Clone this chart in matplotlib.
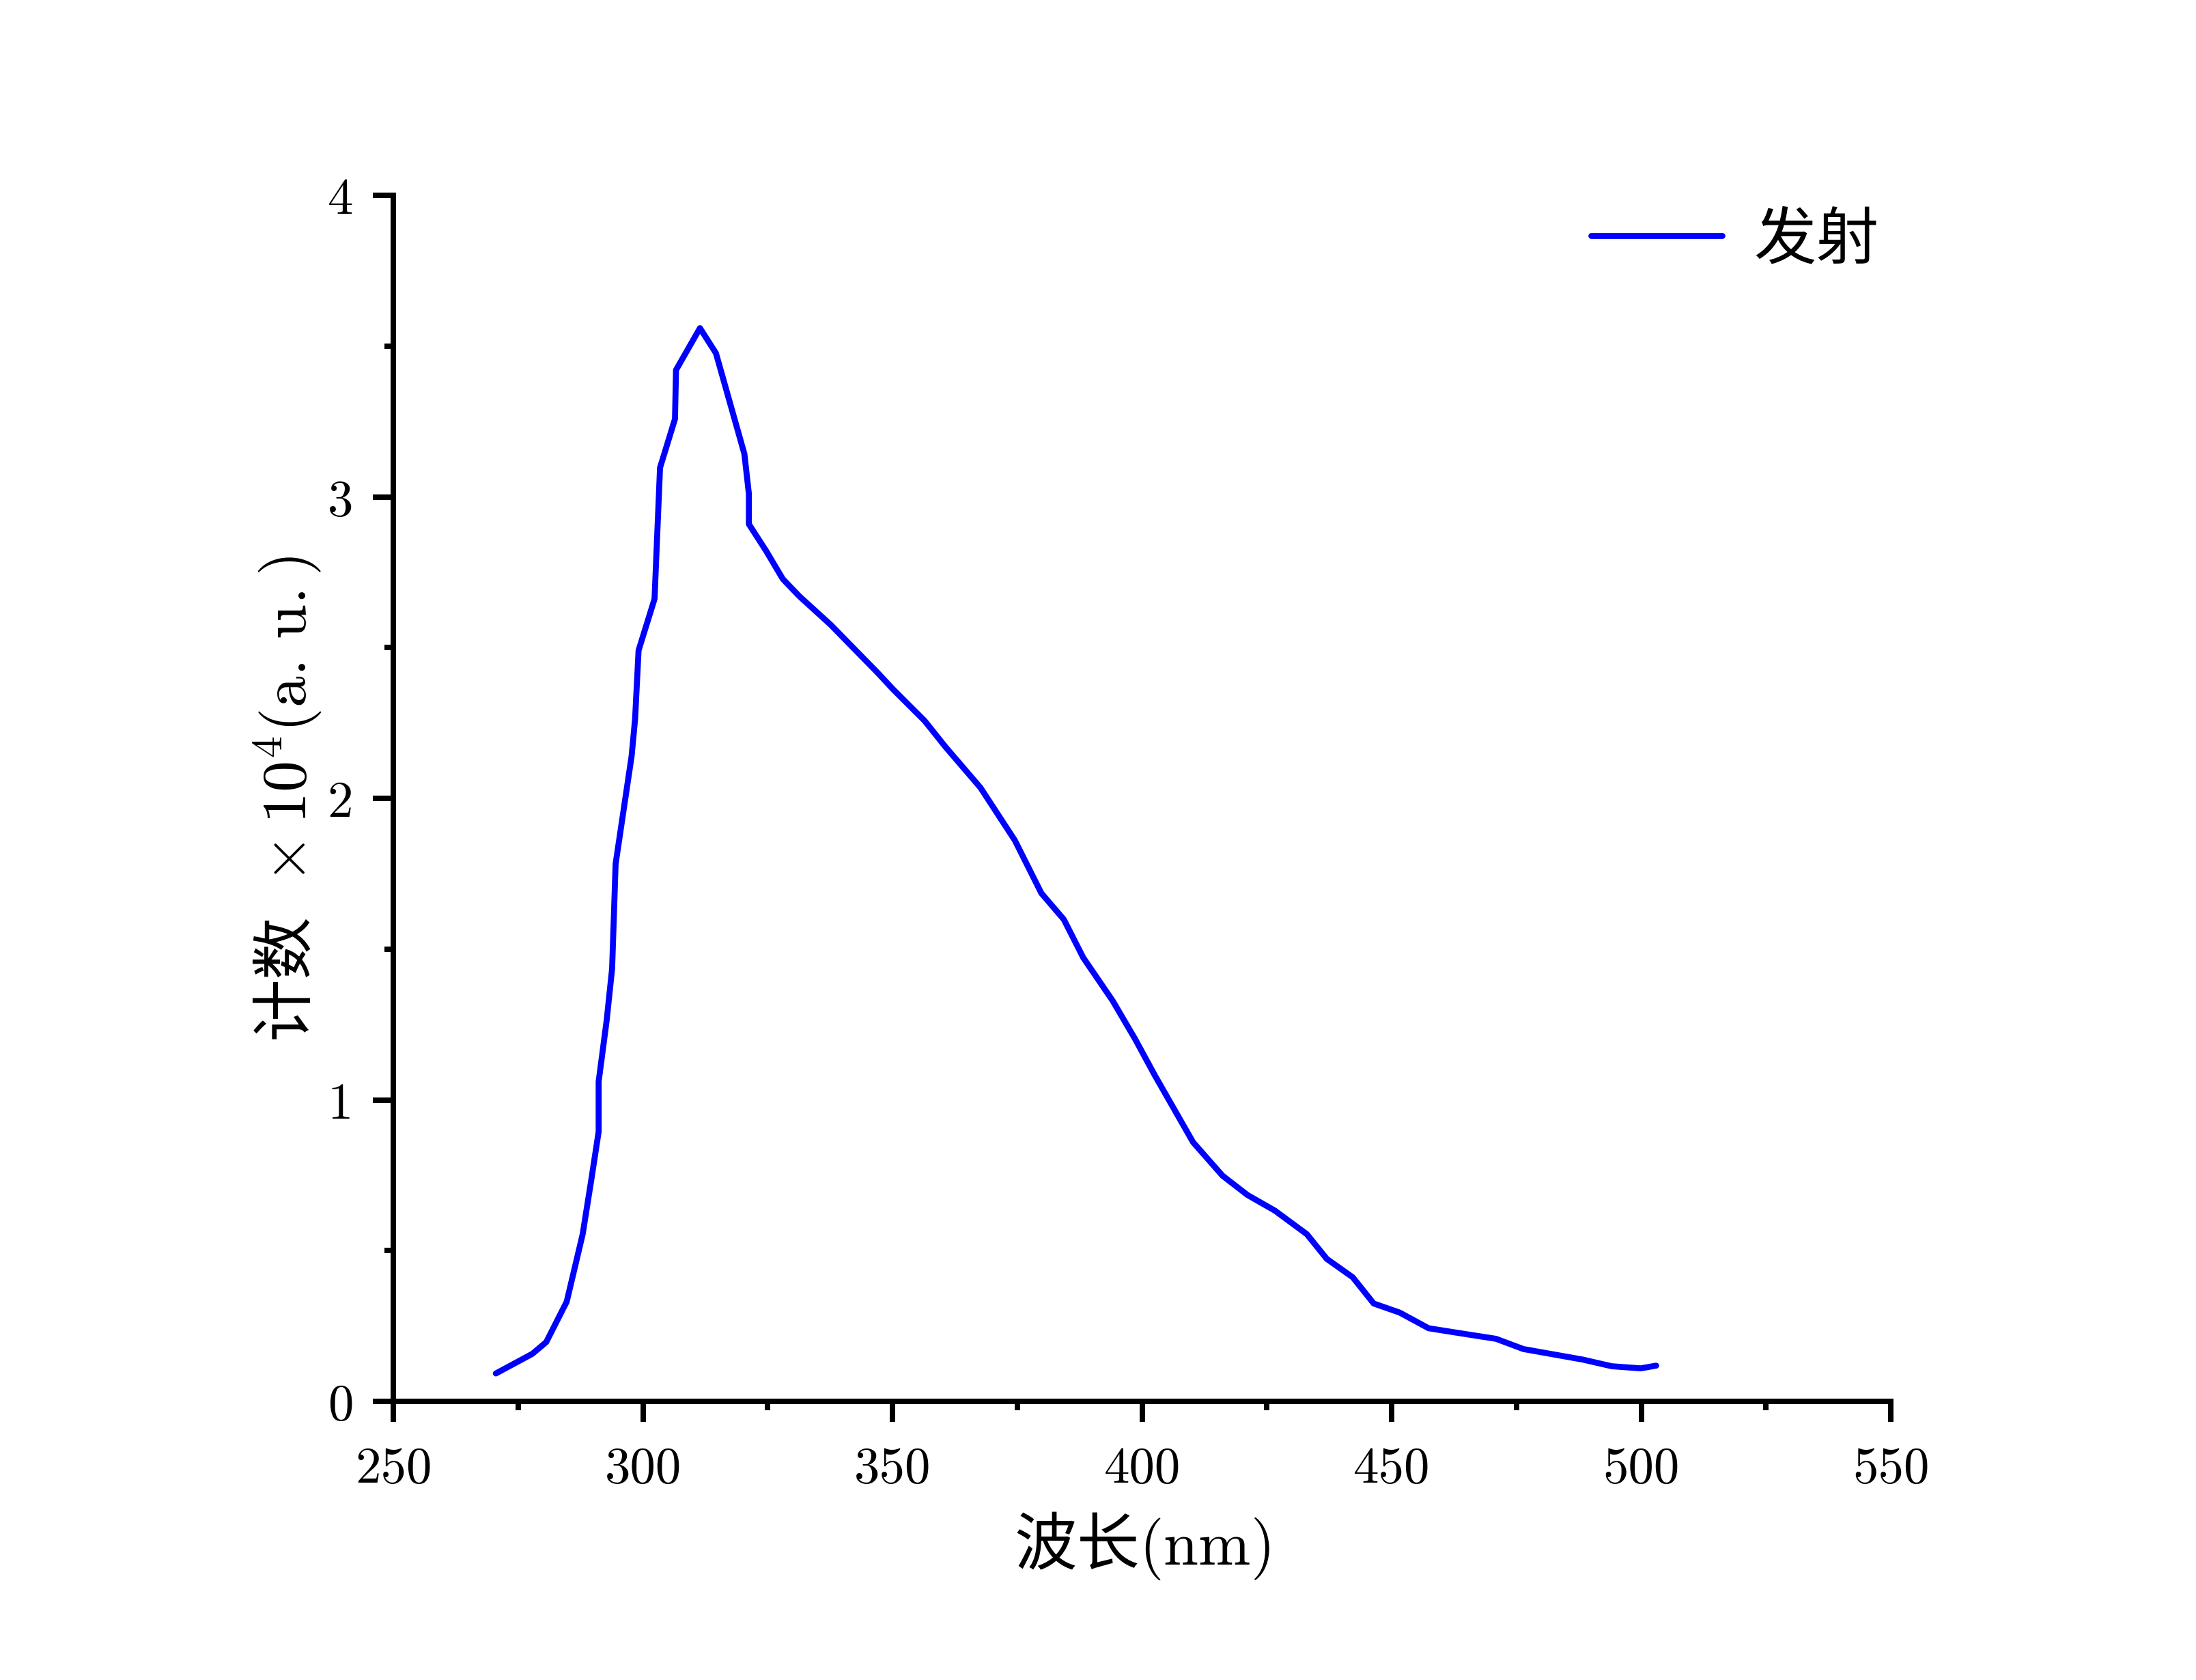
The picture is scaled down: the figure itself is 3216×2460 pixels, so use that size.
import numpy as np
import matplotlib
matplotlib.use("Agg")
import matplotlib.pyplot as plt
from matplotlib.ticker import MultipleLocator

plt.rcParams["font.family"] = ["cmr10", "Noto Sans CJK SC", "DejaVu Sans"]
plt.rcParams["mathtext.fontset"] = "cm"
plt.rcParams["axes.unicode_minus"] = False

# emission spectrum, counts in units of 1e4
wavelength = [270.5, 277.8, 280.6, 284.7, 287.9, 289.7, 291.1, 291.1, 292.7, 293.8,
              294.5, 297.7, 298.4, 299.1, 302.3, 303.4, 306.4, 306.6, 311.4, 314.6,
              320.3, 321.2, 321.2, 324.7, 328.0, 331.3, 337.6, 347.0, 350.1, 356.4,
              360.6, 367.6, 374.5, 379.8, 384.3, 388.2, 394.1, 398.6, 402.5, 410.2,
              416.1, 421.1, 426.6, 433.0, 437.0, 442.2, 446.4, 451.6, 457.4, 463.9,
              470.9, 476.4, 488.3, 494.1, 499.9, 503.0]
counts = [0.093, 0.158, 0.197, 0.331, 0.555, 0.743, 0.895, 1.061, 1.263, 1.436,
          1.783, 2.140, 2.263, 2.491, 2.662, 3.097, 3.259, 3.421, 3.560, 3.477,
          3.143, 3.011, 2.910, 2.820, 2.728, 2.671, 2.576, 2.417, 2.362, 2.258,
          2.171, 2.036, 1.861, 1.686, 1.599, 1.472, 1.329, 1.202, 1.083, 0.860,
          0.749, 0.685, 0.633, 0.555, 0.473, 0.412, 0.325, 0.295, 0.243, 0.226,
          0.208, 0.174, 0.139, 0.117, 0.110, 0.119]
series_label = "发射"

cjk = ["Noto Sans CJK SC", "DejaVu Sans"]

fig = plt.figure(figsize=(10.72, 8.2033), dpi=300)
ax = fig.add_axes([0.1792, 0.1657, 0.6818, 0.7176])

ax.plot(wavelength, counts, color="#0000FF", lw=2.1, solid_capstyle="round",
        label=series_label)

ax.set_xlim(250, 550)
ax.set_ylim(0, 4)
ax.xaxis.set_major_locator(MultipleLocator(50))
ax.xaxis.set_minor_locator(MultipleLocator(25))
ax.yaxis.set_major_locator(MultipleLocator(1))
ax.yaxis.set_minor_locator(MultipleLocator(0.5))

for side in ["top", "right"]:
    ax.spines[side].set_visible(False)
for side in ["left", "bottom"]:
    ax.spines[side].set_linewidth(1.9)

ax.tick_params(which="major", direction="out", length=7.2, width=1.9,
               labelsize=18, pad=8.5)
ax.tick_params(which="minor", direction="out", length=3.2, width=1.9)
ax.tick_params(axis="y", which="major", pad=7)

ax.set_xlabel(r"波长$\mathrm{(nm)}$", fontsize=22, family=cjk, labelpad=6)
ax.set_ylabel(r"计数 $\,\times\mathrm{10^4(a.\,u.)}$", fontsize=22, family=cjk,
              labelpad=1)

leg = ax.legend(loc="upper right", bbox_to_anchor=(0.992, 0.99), frameon=False,
                prop={"family": cjk, "size": 22}, handlelength=2.1,
                handletextpad=0.5, borderaxespad=0, borderpad=0)

plt.savefig("out.png", dpi=300)
